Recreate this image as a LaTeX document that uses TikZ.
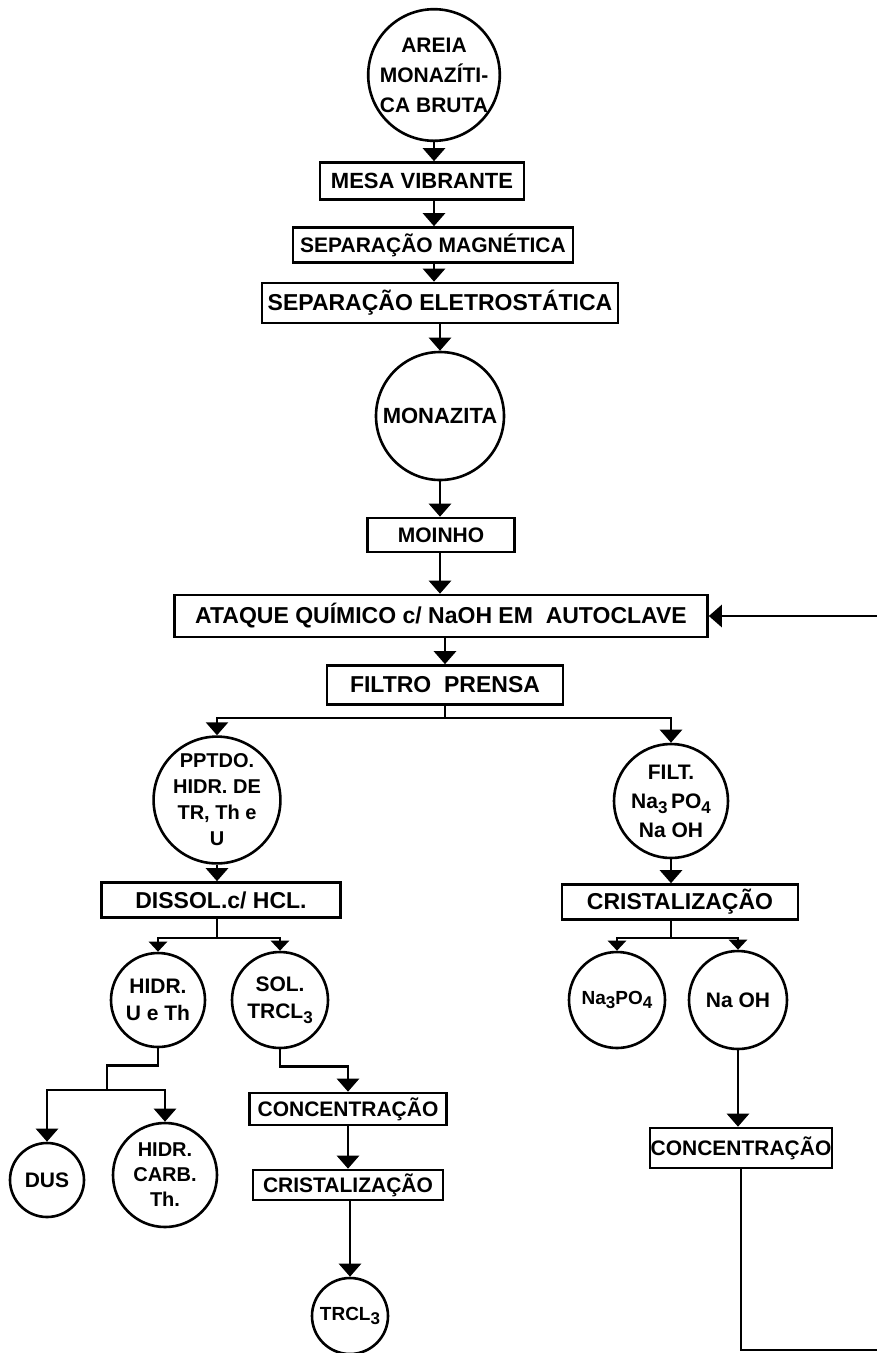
\documentclass[tikz,border=0pt]{standalone}
\usepackage{fontspec}
\setmainfont{Liberation Sans}
\usetikzlibrary{arrows.meta}
\tikzset{
  box/.style={draw,line width=2.6pt,inner sep=0pt},
  disc/.style={draw,circle,line width=2.6pt,inner sep=0pt,align=center},
  link/.style={line width=2.6pt},
  flow/.style={line width=2.6pt,-{Triangle[width=22pt,length=13pt]}},
  flowsm/.style={line width=2.6pt,-{Triangle[width=18pt,length=10pt]}},
}
\newcommand\fsz[2]{\fontsize{#1}{#2}\selectfont\bfseries}
\newcommand\sbs[1]{\raisebox{-0.45ex}{\fontsize{17}{17}\selectfont #1}}

\begin{document}
\begin{tikzpicture}[x=1pt,y=-1pt]
\clip (0,0) rectangle (877,1353);
% Trunk: sand to autoclave
\node[disc,minimum size=126pt,font=\fsz{21}{30}] (areia) at (434,75) {AREIA\\MONAZÍTI-\\CA BRUTA};
\node[box,minimum width=204pt,minimum height=37pt,font=\fsz{22}{22}] (mesa) at (422,181) {MESA VIBRANTE};
\node[box,minimum width=280pt,minimum height=35pt,font=\fsz{21}{21}] (magn) at (433,245) {SEPARAÇÃO MAGNÉTICA};
\node[box,minimum width=356pt,minimum height=40pt,font=\fsz{23}{23}] (eletro) at (440,303) {SEPARAÇÃO ELETROSTÁTICA};
\node[disc,minimum size=128pt,font=\fsz{22}{22}] (monaz) at (440,416) {MONAZITA};
\node[box,minimum width=147pt,minimum height=34pt,font=\fsz{21}{21}] (moinho) at (441,535) {MOINHO};
\node[box,minimum width=533pt,minimum height=42pt,font=\fsz{23}{23}] (ataque) at (441,616) {ATAQUE QUÍMICO c/ NaOH EM~ AUTOCLAVE};
\node[box,minimum width=236pt,minimum height=39pt,font=\fsz{23}{23}] (filtro) at (445,685) {FILTRO~ PRENSA};
\draw[flow] (areia.south) -- (mesa.north -| areia.south);
\draw[flow] (mesa.north -| areia.south) ++(0,37) -- (magn.north -| areia.south);
\draw[flow] (magn.north -| areia.south) ++(0,35) -- (eletro.north -| areia.south);
\draw[flow] (eletro.south -| monaz) -- (monaz.north);
\draw[flow] (monaz.south) -- (moinho.north -| monaz.south);
\draw[flow] (moinho.south -| monaz.south) -- (ataque.north -| monaz.south);
\draw[flow] (ataque.south -| filtro) -- (filtro.north);
% Left branch: hydroxides
\node[disc,minimum size=116pt,font=\fsz{20}{26}] (pptdo) at (217,800) {PPTDO.\\HIDR. DE\\TR, Th e\\U};
\node[box,minimum width=239pt,minimum height=35pt,font=\fsz{23}{23}] (dissol) at (221,900) {DISSOL.c/ HCL.};
\node[disc,minimum size=94pt,font=\fsz{21}{27}] (hidr) at (158,1000) {HIDR.\\U e Th};
\node[disc,minimum size=96pt,font=\fsz{21}{27}] (sol) at (280,1000) {SOL.\\TRCL\sbs{3}};
\node[disc,minimum size=74pt,font=\fsz{21}{21}] (dus) at (47,1180) {DUS};
\node[disc,minimum size=104pt,font=\fsz{20}{25}] (carb) at (165,1175) {HIDR.\\CARB.\\Th.};
\node[box,minimum width=197pt,minimum height=32pt,font=\fsz{21}{21}] (conc1) at (348,1109) {CONCENTRAÇÃO};
\node[box,minimum width=190pt,minimum height=30pt,font=\fsz{21}{21}] (crist1) at (348,1185) {CRISTALIZAÇÃO};
\node[disc,minimum size=76pt,font=\fsz{19}{19}] (trcl) at (350,1316) {TRCL\sbs{3}};
\draw[link] (filtro.south) -- ++(0,12) coordinate (fsplit);
\draw[flow] (fsplit) -| (pptdo.north);
\draw[flow] (pptdo.south) -- (dissol.north -| pptdo.south);
\draw[link] (dissol.south -| pptdo.south) -- ++(0,19) coordinate (dsplit);
\draw[flowsm] (dsplit) -| (hidr.north);
\draw[flowsm] (dsplit) -| (sol.north);
\draw[link] (hidr.south) -- ++(0,17) -| (107,1090) coordinate (hsplit);
\draw[flow] (hsplit) -| (dus.north);
\draw[flow] (hsplit) -| (carb.north);
\draw[flow] (sol.south) -- ++(0,17) -| (conc1.north);
\draw[flow] (conc1.south) -- (crist1.north -| conc1.south);
\draw[flow] (crist1.south -| trcl) -- (trcl.north);
% Right branch: filtrate and return of NaOH
\node[disc,minimum size=114pt,font=\fsz{21}{29}] (filt) at (671,801) {FILT.\\Na\sbs{3}\,PO\sbs{4}\\Na OH};
\node[box,minimum width=236pt,minimum height=35pt,font=\fsz{23}{23}] (crist2) at (680,902) {CRISTALIZAÇÃO};
\node[disc,minimum size=96pt,font=\fsz{19}{19}] (na3) at (617,1000) {Na\sbs{3}PO\sbs{4}};
\node[disc,minimum size=98pt,font=\fsz{21}{21}] (naoh) at (738,1000) {Na OH};
\node[box,minimum width=182pt,minimum height=40pt,font=\fsz{21}{21}] (conc2) at (741,1148) {CONCENTRAÇÃO};
\draw[flow] (fsplit) -| (filt.north);
\draw[flow] (filt.south) -- (crist2.north -| filt.south);
\draw[link] (crist2.south -| filt.south) -- ++(0,17) coordinate (csplit);
\draw[flowsm] (csplit) -| (na3.north);
\draw[flowsm] (csplit) -| (naoh.north);
\draw[flow] (naoh.south) -- (conc2.north -| naoh.south);
\coordinate (ret) at (890,1350);
\draw[flow] (conc2.south) |- (ret) |- (ataque.east);
\end{tikzpicture}
\end{document}
